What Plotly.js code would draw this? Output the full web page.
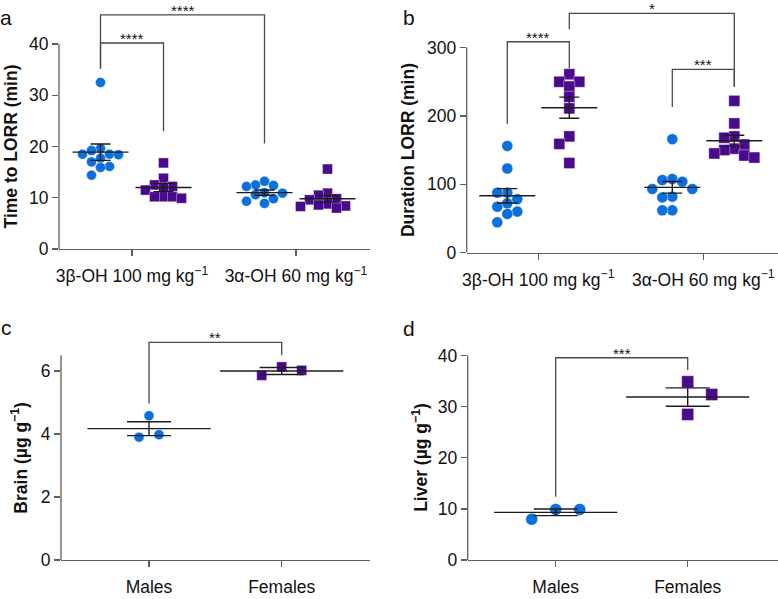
<!DOCTYPE html>
<html><head><meta charset="utf-8">
<script src="https://cdn.plot.ly/plotly-3.0.1.min.js"></script>
<style>html,body{margin:0;padding:0;background:#fff}#chart{width:778px;height:599px}</style>
</head><body><div id="chart"></div>
<script>
// ---------------- data ----------------
const doseLabels = ['3β-OH 100 mg kg<sup>−1</sup>', '3α-OH 60 mg kg<sup>−1</sup>'];
const sexLabels = ['Males', 'Females'];

// panel a: time to LORR (min)
const timeMale3b   = [32.5, 19.6, 19.2, 18.5, 18.5, 18.4, 17.7, 17.0, 16.1, 15.9, 14.4];
const timeFemale3b = [16.8, 13.8, 12.5, 12.2, 12.0, 11.5, 10.2, 10.2, 10.2, 9.9];
const timeMale3a   = [13.2, 12.5, 12.4, 12.2, 11.0, 10.9, 10.6, 9.8, 9.3, 8.9];
const timeFemale3a = [15.6, 10.9, 10.5, 9.8, 9.6, 8.8, 8.6, 8.4, 8.3, 8.0];
const timeMean = [18.9, 12.0, 11.0, 9.8];
const timeSem  = [1.6, 0.8, 0.5, 0.65];

// panel b: duration LORR (min)
const durMale3b   = [156, 123, 87.6, 87.6, 78, 72, 67, 60, 56.4, 44.2];
const durFemale3b = [261, 250, 250, 243, 228, 211, 170, 159, 131];
const durMale3a   = [166, 107.6, 106, 103.7, 93, 93, 81.7, 80.7, 61.8, 61.8];
const durFemale3a = [222, 189, 170, 168, 158, 152, 150, 145, 142, 139];
const durMean = [83, 212, 95.4, 163.7];
const durSem  = [10.5, 15.5, 8.5, 8];

// panel c: brain (µg/g)
const brainMale   = [4.58, 3.98, 3.90];
const brainFemale = [6.13, 6.02, 5.86];
const brainMean = [4.17, 6.0];
const brainSem  = [0.22, 0.11];

// panel d: liver (µg/g)
const liverMale   = [9.9, 9.9, 8.0];
const liverFemale = [34.9, 32.4, 28.5];
const liverMean = [9.33, 31.9];
const liverSem  = [0.65, 1.8];

// significance brackets: group indices, heights (data units), label
const sigA = [{from:0, to:1, top:40.2, footL:35.2, footR:23.0, label:'****'},
              {from:0, to:2, top:45.7, footL:35.2, footR:20.6, label:'****'}];
const sigB = [{from:0, to:1, top:308.6, footL:188, footR:269.7, label:'****'},
              {from:1, to:3, top:350, footL:327, footR:242.7, label:'*'},
              {from:2, to:3, top:268, footL:213, footR:242.7, label:'***'}];
const sigC = [{from:0, to:1, top:6.91, footL:4.97, footR:6.5, label:'**'}];
const sigD = [{from:0, to:1, top:39.6, footL:12.4, footR:37.2, label:'***'}];

const titles = {a:'<b>Time to LORR (min)</b>', b:'<b>Duration LORR (min)</b>',
                c:'<b>Brain (µg g<sup>−1</sup>)</b>', d:'<b>Liver (µg g<sup>−1</sup>)</b>'};

// ---------------- layout / style constants ----------------
const W = 778, H = 599;
const FONT = 'Liberation Sans, Arial, Helvetica, sans-serif';
const BLUE = '#0b70dc', PURPLE = '#4a0a8e', AXIS = '#5e5e5e', BAR = '#1c1c1c', TXT = '#111';

const geo = {
  a:{ax:'', left:59, right:370, t0:132, t1:296, y0:249, ppu:5.125, top:46.5, axisTop:40, ticks:[0,10,20,30,40], sub:31.5, dot:10, meanHalf:20, cap:10, titleX:11, titleY:20, lab:'a', labX:-2, labY:17,
     sw:{step:9, thrX:9, thrY:9, first:-1}},
  b:{ax:'2', left:466.7, right:777.5, t0:538.3, t1:703.3, y0:252.5, ppu:0.683, top:355, axisTop:300, ticks:[0,100,200,300], sub:31, dot:11, meanHalf:20, cap:10, titleX:408, titleY:150, lab:'b', labX:401, labY:17,
     sw:{step:10, thrX:10, thrY:10, first:-1}},
  c:{ax:'3', left:61, right:370, t0:149, t1:281.7, y0:560, ppu:31.5, top:7.1, axisTop:6.5, ticks:[0,2,4,6], sub:0, dot:10, meanHalf:44, cap:22, titleX:19, titleY:3.25, lab:'c', labX:-1, labY:327,
     sw:{step:10, thrX:15, thrY:22, first:1}},
  d:{ax:'4', left:467.7, right:777.5, t0:555.7, t1:687.7, y0:560, ppu:5.1075, top:40.5, axisTop:40, ticks:[0,10,20,30,40], sub:0, dot:12, meanHalf:44, cap:22, titleX:420, titleY:20, lab:'d', labX:401, labY:328,
     sw:{step:24, thrX:24, thrY:25, first:1}}
};

// simple beeswarm: horizontal pixel offsets so markers don't overlap
function swarm(values, ppu, sw) {
  const order = values.map((v, i) => i).sort((a, b) => values[b] - values[a]);
  const placed = [], off = new Array(values.length).fill(0);
  for (const i of order) {
    const y = values[i] * ppu;
    for (let k = 0; k < 40; k++) {
      const c = k === 0 ? 0 : (k % 2 ? sw.first : -sw.first) * Math.ceil(k / 2) * sw.step;
      if (placed.every(p => ((p.x - c) / sw.thrX) ** 2 + ((p.y - y) / sw.thrY) ** 2 >= 0.999)) { off[i] = c; placed.push({x: c, y}); break; }
    }
  }
  return off;
}

const traces = [], shapes = [], annotations = [], layout = {};

function panel(key, groupsVals, means, sems, symbols, colors, tickLabels, sig) {
  const g = geo[key];
  const pxu = g.t1 - g.t0;
  const xa = 'x' + g.ax, ya = 'y' + g.ax;
  const xdom = [g.left / W, g.right / W];
  const ydom = [1 - g.y0 / H, 1 - (g.y0 - g.top * g.ppu) / H];
  const nSub = groupsVals.length / tickLabels.length;
  const centers = groupsVals.map((v, i) => {
    const grp = Math.floor(i / nSub);
    if (nSub === 1) return grp;
    return grp + ((i % nSub) === 0 ? -1 : 1) * g.sub / pxu;
  });
  groupsVals.forEach((vals, i) => {
    const off = swarm(vals, g.ppu, g.sw);
    traces.push({type:'scatter', mode:'markers', xaxis:xa, yaxis:ya, hoverinfo:'skip', showlegend:false, cliponaxis:false,
      x: vals.map((v, j) => centers[i] + off[j] / pxu), y: vals,
      marker:{symbol:symbols[i], size:g.dot, color:colors[i], line:{color:'rgba(255,255,255,0.45)', width:0.8}}});
  });
  traces.push({type:'scatter', mode:'markers', xaxis:xa, yaxis:ya, hoverinfo:'skip', showlegend:false, cliponaxis:false,
    x: centers, y: means,
    marker:{symbol:'line-ew-open', size:2 * g.meanHalf, color:BAR, line:{color:BAR, width:1.4}},
    error_y:{type:'data', array:sems, visible:true, color:BAR, thickness:1.4, width:g.cap}});
  const axKey = g.ax;
  layout['xaxis' + axKey] = {domain:xdom, anchor:ya, range:[(g.left - g.t0) / pxu, (g.right - g.t0) / pxu],
    tickvals: tickLabels.map((t, i) => i), ticktext: tickLabels, ticks:'outside', ticklen:6, tickwidth:1.3, tickcolor:AXIS,
    ticklabelstandoff:5,
    showline:true, linecolor:AXIS, linewidth:1.3, showgrid:false, zeroline:false, fixedrange:true,
    tickfont:{family:FONT, size:17.5, color:TXT}};
  layout['yaxis' + axKey] = {domain:ydom, anchor:xa, range:[0, g.top], tickvals:g.ticks, ticks:'outside', ticklen:6,
    tickwidth:1.3, tickcolor:AXIS, showline:false, showgrid:false, zeroline:false, fixedrange:true,
    tickfont:{family:FONT, size:17.5, color:TXT}};
  // y axis line (stops at the last tick)
  shapes.push({type:'line', xref:'paper', yref:ya, x0:xdom[0], x1:xdom[0], y0:0, y1:g.axisTop, line:{color:AXIS, width:1.3}});
  // brackets
  sig.forEach(s => {
    const xl = centers[s.from], xr = centers[s.to];
    shapes.push({type:'path', xref:xa, yref:ya,
      path:`M${xl},${s.footL} L${xl},${s.top} L${xr},${s.top} L${xr},${s.footR}`, line:{color:'#4a4a4a', width:1.3}});
    annotations.push({xref:xa, yref:ya, x:(xl + xr) / 2, y:s.top, yanchor:'bottom', yshift:-6, showarrow:false,
      text:s.label, font:{family:FONT, size:15, color:TXT}});
  });
  annotations.push({xref:'paper', yref:ya, x:g.titleX / W, y:g.titleY, xanchor:'center', yanchor:'middle',
    textangle:-90, showarrow:false, text:titles[key], font:{family:FONT, size:17.5, color:TXT}});
  annotations.push({xref:'paper', yref:'paper', x:g.labX / W, y:1 - g.labY / H, xanchor:'left', yanchor:'middle',
    showarrow:false, text:g.lab, font:{family:FONT, size:21, color:TXT}});
}

panel('a', [timeMale3b, timeFemale3b, timeMale3a, timeFemale3a], timeMean, timeSem,
      ['circle','square','circle','square'], [BLUE, PURPLE, BLUE, PURPLE], doseLabels, sigA);
panel('b', [durMale3b, durFemale3b, durMale3a, durFemale3a], durMean, durSem,
      ['circle','square','circle','square'], [BLUE, PURPLE, BLUE, PURPLE], doseLabels, sigB);
panel('c', [brainMale, brainFemale], brainMean, brainSem, ['circle','square'], [BLUE, PURPLE], sexLabels, sigC);
panel('d', [liverMale, liverFemale], liverMean, liverSem, ['circle','square'], [BLUE, PURPLE], sexLabels, sigD);

Object.assign(layout, {width:W, height:H, margin:{l:0, r:0, t:0, b:0}, paper_bgcolor:'#fff', plot_bgcolor:'#fff',
  showlegend:false, shapes, annotations, font:{family:FONT, color:TXT}});

Plotly.newPlot('chart', traces, layout, {staticPlot:true, displayModeBar:false});
</script>
</body></html>
